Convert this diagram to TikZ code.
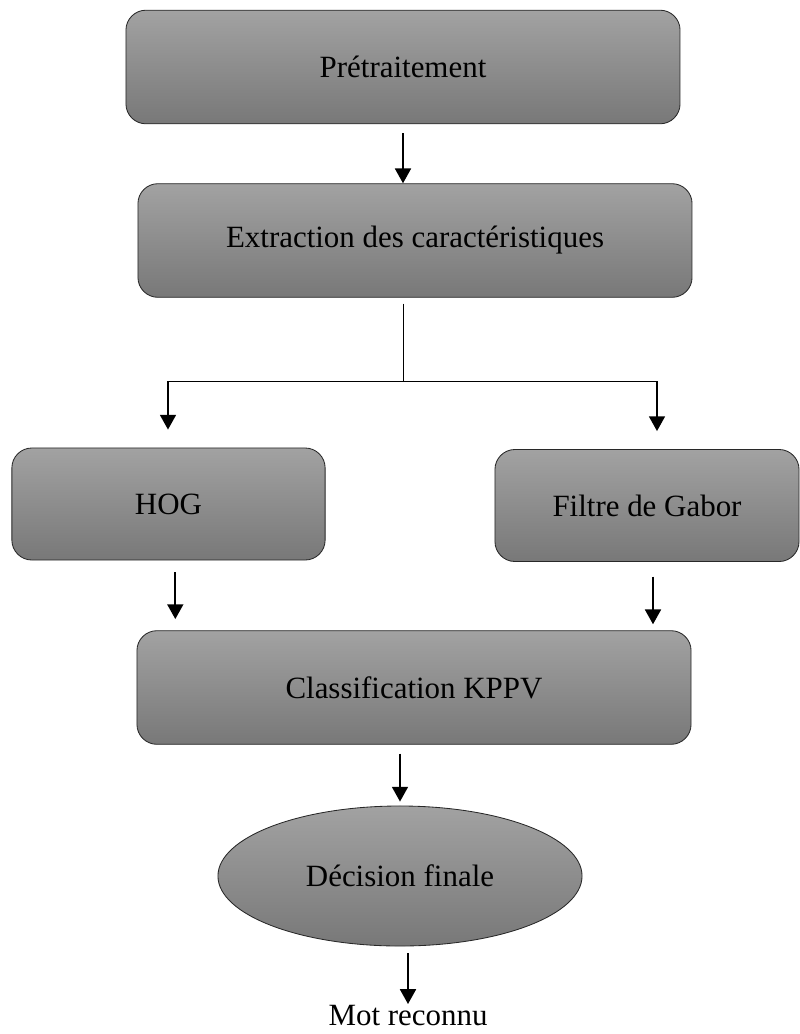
\documentclass[tikz,border=0pt]{standalone}
\usepackage{fontspec}
\setmainfont{Liberation Serif}
\usepackage{tikz}
\usetikzlibrary{arrows.meta,positioning,calc,shapes.geometric}
\definecolor{boxtop}{RGB}{162,162,162}
\definecolor{boxbot}{RGB}{120,120,120}
\definecolor{boxline}{RGB}{40,40,40}
\tikzset{box/.style={draw=boxline,line width=0.6pt,rounded corners=0.5cm,top color=boxtop,bottom color=boxbot,align=center,inner sep=0pt,font=\fontsize{22}{26}\selectfont},
  wide/.style={box,minimum width=13.85cm,minimum height=2.84cm},
  small/.style={box,minimum height=2.8cm},
  oval/.style={box,ellipse,rounded corners=0pt,minimum width=9.1cm,minimum height=3.5cm},
  arr/.style={-{Triangle[length=0.37cm,width=0.4cm]},line width=1.3pt},
  thinline/.style={line width=0.7pt}}

\begin{document}
\begin{tikzpicture}[x=0.025cm,y=-0.025cm]
\useasboundingbox (0,0) rectangle (800,1034);
\node[wide] (pre) at (403,67){Prétraitement};
\node[wide] (ext) at (415,240.5){Extraction des caractéristiques};
\node[small,minimum width=7.83cm] (hog) at (168.5,504){HOG};
\node[small,minimum width=7.6cm] (gab) at (647,505.5){Filtre de Gabor};
\node[wide] (cls) at (414,687.5){Classification KPPV};
\node[oval] (dec) at (400,876){Décision finale};
\node[font=\fontsize{22}{26}\selectfont,inner sep=1pt,anchor=north] (mot) at (408,1004){Mot reconnu};
% split lines
\coordinate (sp) at (403,381);
\coordinate (spl) at (168,381);
\coordinate (spr) at (657,381);
\draw[arr,shorten <=0.22cm] (pre.south) -- (pre.south |- ext.north);
\draw[thinline,shorten <=0.15cm] (sp |- ext.south) -- (sp);
\draw[thinline] (spl) -- (spr);
\draw[arr,shorten >=0.45cm] (spl) -- (spl |- hog.north);
\draw[arr,shorten >=0.45cm] (spr) -- (spr |- gab.north);
\draw[arr,shorten <=0.3cm,shorten >=0.28cm] ([xshift=0.17cm]hog.south) -- ([xshift=0.17cm]hog.south |- cls.north);
\draw[arr,shorten <=0.37cm,shorten >=0.15cm] ([xshift=0.15cm]gab.south) -- ([xshift=0.15cm]gab.south |- cls.north);
\draw[arr,shorten <=0.22cm,shorten >=0.1cm] (dec.north |- cls.south) -- (dec.north);
\draw[arr,shorten <=0.17cm] (mot.north |- dec.south) -- (mot.north);
\end{tikzpicture}
\end{document}
